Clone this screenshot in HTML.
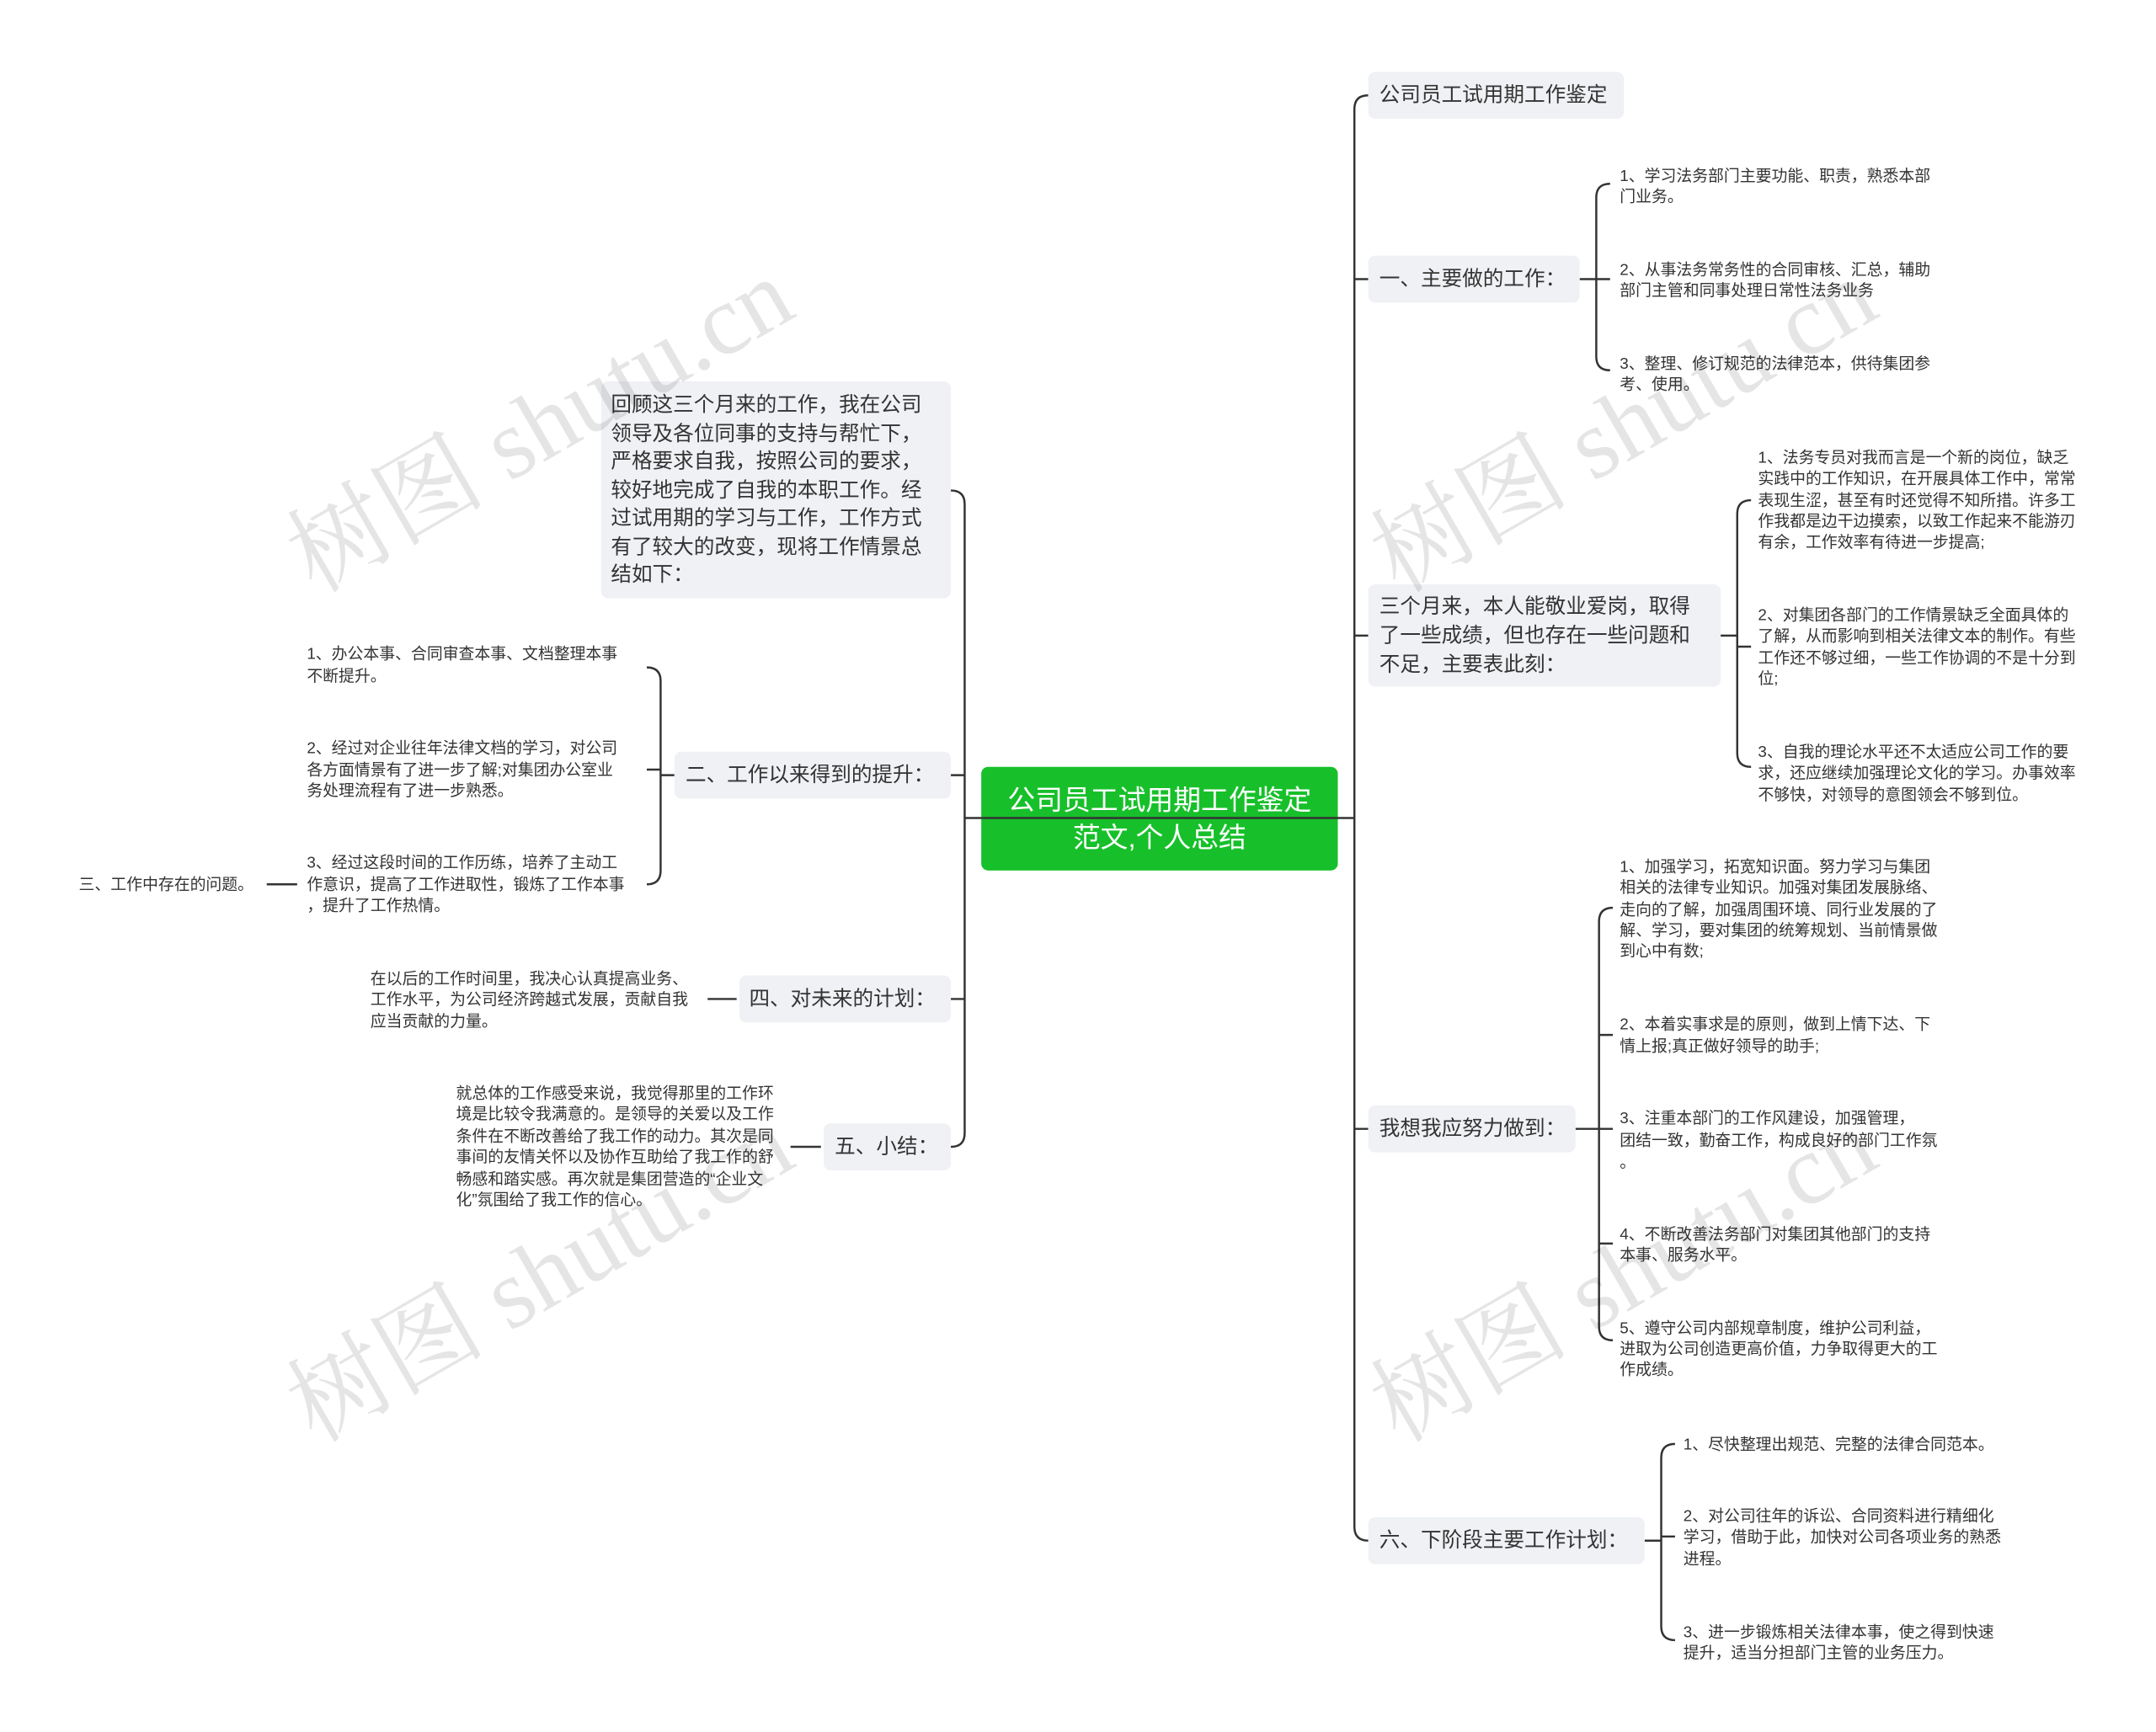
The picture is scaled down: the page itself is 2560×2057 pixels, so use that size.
<!DOCTYPE html>
<html><head><meta charset="utf-8"><style>
html,body{margin:0;padding:0;background:#fff;}
svg{display:block;}
text{font-family:"Liberation Sans","Noto Sans CJK SC",sans-serif;fill:#333;}
.m{font-size:15px;dominant-baseline:central;}
.s{font-size:11.5px;dominant-baseline:central;}
.wm{font-size:72px;fill:#000;fill-opacity:0.1;font-family:"Liberation Serif","Noto Serif CJK SC",serif;}
</style></head><body>
<svg width="2560" height="2057" viewBox="0 0 1560 1253.5" xmlns="http://www.w3.org/2000/svg">
<g fill="none" stroke="#333" stroke-width="1.5">
<path d="M968,592 L980,592"/>
<path d="M990,69 Q980,69 980,79 L980,1105 Q980,1115 990,1115"/>
<path d="M980,202 L990,202 M980,460 L990,460 M980,817 L990,817"/>
<path d="M1143,202 L1155,202 M1165,133 Q1155,133 1155,143 L1155,258 Q1155,268 1165,268 M1155,202 L1165,202"/>
<path d="M1245,460 L1257,460 M1267,362 Q1257,362 1257,372 L1257,545 Q1257,555 1267,555 M1257,468 L1267,468"/>
<path d="M1140,817 L1157,817 M1167,657 Q1157,657 1157,667 L1157,960 Q1157,970 1167,970 M1157,749 L1167,749 M1157,817 L1167,817 M1157,900 L1167,900"/>
<path d="M1190,1115 L1202,1115 M1212,1045 Q1202,1045 1202,1055 L1202,1177 Q1202,1187 1212,1187 M1202,1112 L1212,1112"/>
<path d="M710,592 L698,592"/>
<path d="M688,355 Q698,355 698,365 L698,820 Q698,830 688,830"/>
<path d="M698,561 L688,561 M698,723 L688,723"/>
<path d="M488,561 L478,561 M468,483 Q478,483 478,493 L478,630 Q478,640 468,640 M478,557 L468,557"/>
<path d="M215,640 L193,640"/>
<path d="M533,723 L512,723 M594,830 L572,830"/>
</g>
<g fill="#eff1f4">
<rect x="990" y="52" width="185" height="34" rx="5"/>
<rect x="990" y="185" width="153" height="34" rx="5"/>
<rect x="990" y="423" width="255" height="74" rx="5"/>
<rect x="990" y="800" width="150" height="34" rx="5"/>
<rect x="990" y="1098" width="200" height="34" rx="5"/>
<rect x="435" y="276" width="253" height="157" rx="5"/>
<rect x="488" y="544" width="200" height="34" rx="5"/>
<rect x="535" y="706" width="153" height="34" rx="5"/>
<rect x="596" y="813" width="92" height="34" rx="5"/>
</g>
<rect x="710" y="555" width="258" height="75" rx="5" fill="#17c02a"/>
<line x1="710" y1="592" x2="968" y2="592" stroke="#333" stroke-width="1.5"/>
<text class="m" x="839" y="579" text-anchor="middle" style="font-size:20px;fill:#fff">公司员工试用期工作鉴定</text>
<text class="m" x="839" y="606" text-anchor="middle" style="font-size:20px;fill:#fff">范文,个人总结</text>

<text class="m" x="998" y="69">公司员工试用期工作鉴定</text>
<text class="m" x="998" y="202">一、主要做的工作：</text>
<text class="m" x="998" y="439">三个月来，本人能敬业爱岗，取得</text>
<text class="m" x="998" y="460">了一些成绩，但也存在一些问题和</text>
<text class="m" x="998" y="481">不足，主要表此刻：</text>
<text class="m" x="998" y="817">我想我应努力做到：</text>
<text class="m" x="998" y="1115">六、下阶段主要工作计划：</text>

<text class="s" x="1172" y="127">1、学习法务部门主要功能、职责，熟悉本部</text>
<text class="s" x="1172" y="142">门业务。</text>
<text class="s" x="1172" y="195">2、从事法务常务性的合同审核、汇总，辅助</text>
<text class="s" x="1172" y="210">部门主管和同事处理日常性法务业务</text>
<text class="s" x="1172" y="263">3、整理、修订规范的法律范本，供待集团参</text>
<text class="s" x="1172" y="278">考、使用。</text>

<text class="s" x="1272" y="331">1、法务专员对我而言是一个新的岗位，缺乏</text>
<text class="s" x="1272" y="346">实践中的工作知识，在开展具体工作中，常常</text>
<text class="s" x="1272" y="362">表现生涩，甚至有时还觉得不知所措。许多工</text>
<text class="s" x="1272" y="377">作我都是边干边摸索，以致工作起来不能游刃</text>
<text class="s" x="1272" y="392">有余，工作效率有待进一步提高;</text>
<text class="s" x="1272" y="445">2、对集团各部门的工作情景缺乏全面具体的</text>
<text class="s" x="1272" y="460">了解，从而影响到相关法律文本的制作。有些</text>
<text class="s" x="1272" y="476">工作还不够过细，一些工作协调的不是十分到</text>
<text class="s" x="1272" y="491">位;</text>
<text class="s" x="1272" y="544">3、自我的理论水平还不太适应公司工作的要</text>
<text class="s" x="1272" y="559">求，还应继续加强理论文化的学习。办事效率</text>
<text class="s" x="1272" y="575">不够快，对领导的意图领会不够到位。</text>

<text class="s" x="1172" y="627">1、加强学习，拓宽知识面。努力学习与集团</text>
<text class="s" x="1172" y="642">相关的法律专业知识。加强对集团发展脉络、</text>
<text class="s" x="1172" y="658">走向的了解，加强周围环境、同行业发展的了</text>
<text class="s" x="1172" y="673">解、学习，要对集团的统筹规划、当前情景做</text>
<text class="s" x="1172" y="688">到心中有数;</text>
<text class="s" x="1172" y="741">2、本着实事求是的原则，做到上情下达、下</text>
<text class="s" x="1172" y="757">情上报;真正做好领导的助手;</text>
<text class="s" x="1172" y="809">3、注重本部门的工作风建设，加强管理，</text>
<text class="s" x="1172" y="825">团结一致，勤奋工作，构成良好的部门工作氛</text>
<text class="s" x="1172" y="841">。</text>
<text class="s" x="1172" y="893">4、不断改善法务部门对集团其他部门的支持</text>
<text class="s" x="1172" y="908">本事、服务水平。</text>
<text class="s" x="1172" y="961">5、遵守公司内部规章制度，维护公司利益，</text>
<text class="s" x="1172" y="976">进取为公司创造更高价值，力争取得更大的工</text>
<text class="s" x="1172" y="991">作成绩。</text>

<text class="s" x="1218" y="1045">1、尽快整理出规范、完整的法律合同范本。</text>
<text class="s" x="1218" y="1097">2、对公司往年的诉讼、合同资料进行精细化</text>
<text class="s" x="1218" y="1112">学习，借助于此，加快对公司各项业务的熟悉</text>
<text class="s" x="1218" y="1128">进程。</text>
<text class="s" x="1218" y="1181">3、进一步锻炼相关法律本事，使之得到快速</text>
<text class="s" x="1218" y="1196">提升，适当分担部门主管的业务压力。</text>

<text class="m" x="442" y="293">回顾这三个月来的工作，我在公司</text>
<text class="m" x="442" y="314">领导及各位同事的支持与帮忙下，</text>
<text class="m" x="442" y="334">严格要求自我，按照公司的要求，</text>
<text class="m" x="442" y="355">较好地完成了自我的本职工作。经</text>
<text class="m" x="442" y="375">过试用期的学习与工作，工作方式</text>
<text class="m" x="442" y="396">有了较大的改变，现将工作情景总</text>
<text class="m" x="442" y="416">结如下：</text>
<text class="m" x="496" y="561">二、工作以来得到的提升：</text>
<text class="m" x="542" y="723">四、对未来的计划：</text>
<text class="m" x="604" y="830">五、小结：</text>

<text class="s" x="222" y="473">1、办公本事、合同审查本事、文档整理本事</text>
<text class="s" x="222" y="489">不断提升。</text>
<text class="s" x="222" y="541">2、经过对企业往年法律文档的学习，对公司</text>
<text class="s" x="222" y="557">各方面情景有了进一步了解;对集团办公室业</text>
<text class="s" x="222" y="572">务处理流程有了进一步熟悉。</text>
<text class="s" x="222" y="624">3、经过这段时间的工作历练，培养了主动工</text>
<text class="s" x="222" y="640">作意识，提高了工作进取性，锻炼了工作本事</text>
<text class="s" x="222" y="655">，提升了工作热情。</text>
<text class="s" x="57" y="640">三、工作中存在的问题。</text>
<text class="s" x="268" y="708">在以后的工作时间里，我决心认真提高业务、</text>
<text class="s" x="268" y="723">工作水平，为公司经济跨越式发展，贡献自我</text>
<text class="s" x="268" y="739">应当贡献的力量。</text>
<text class="s" x="330" y="791">就总体的工作感受来说，我觉得那里的工作环</text>
<text class="s" x="330" y="806">境是比较令我满意的。是领导的关爱以及工作</text>
<text class="s" x="330" y="822">条件在不断改善给了我工作的动力。其次是同</text>
<text class="s" x="330" y="837">事间的友情关怀以及协作互助给了我工作的舒</text>
<text class="s" x="330" y="853">畅感和踏实感。再次就是集团营造的“企业文</text>
<text class="s" x="330" y="868">化”氛围给了我工作的信心。</text>

<text class="wm" transform="translate(228,430) rotate(-30)">树图 shutu.cn</text>
<text class="wm" transform="translate(1012,430) rotate(-30)">树图 shutu.cn</text>
<text class="wm" transform="translate(228,1045) rotate(-30)">树图 shutu.cn</text>
<text class="wm" transform="translate(1012,1045) rotate(-30)">树图 shutu.cn</text>
</svg>
</body></html>
